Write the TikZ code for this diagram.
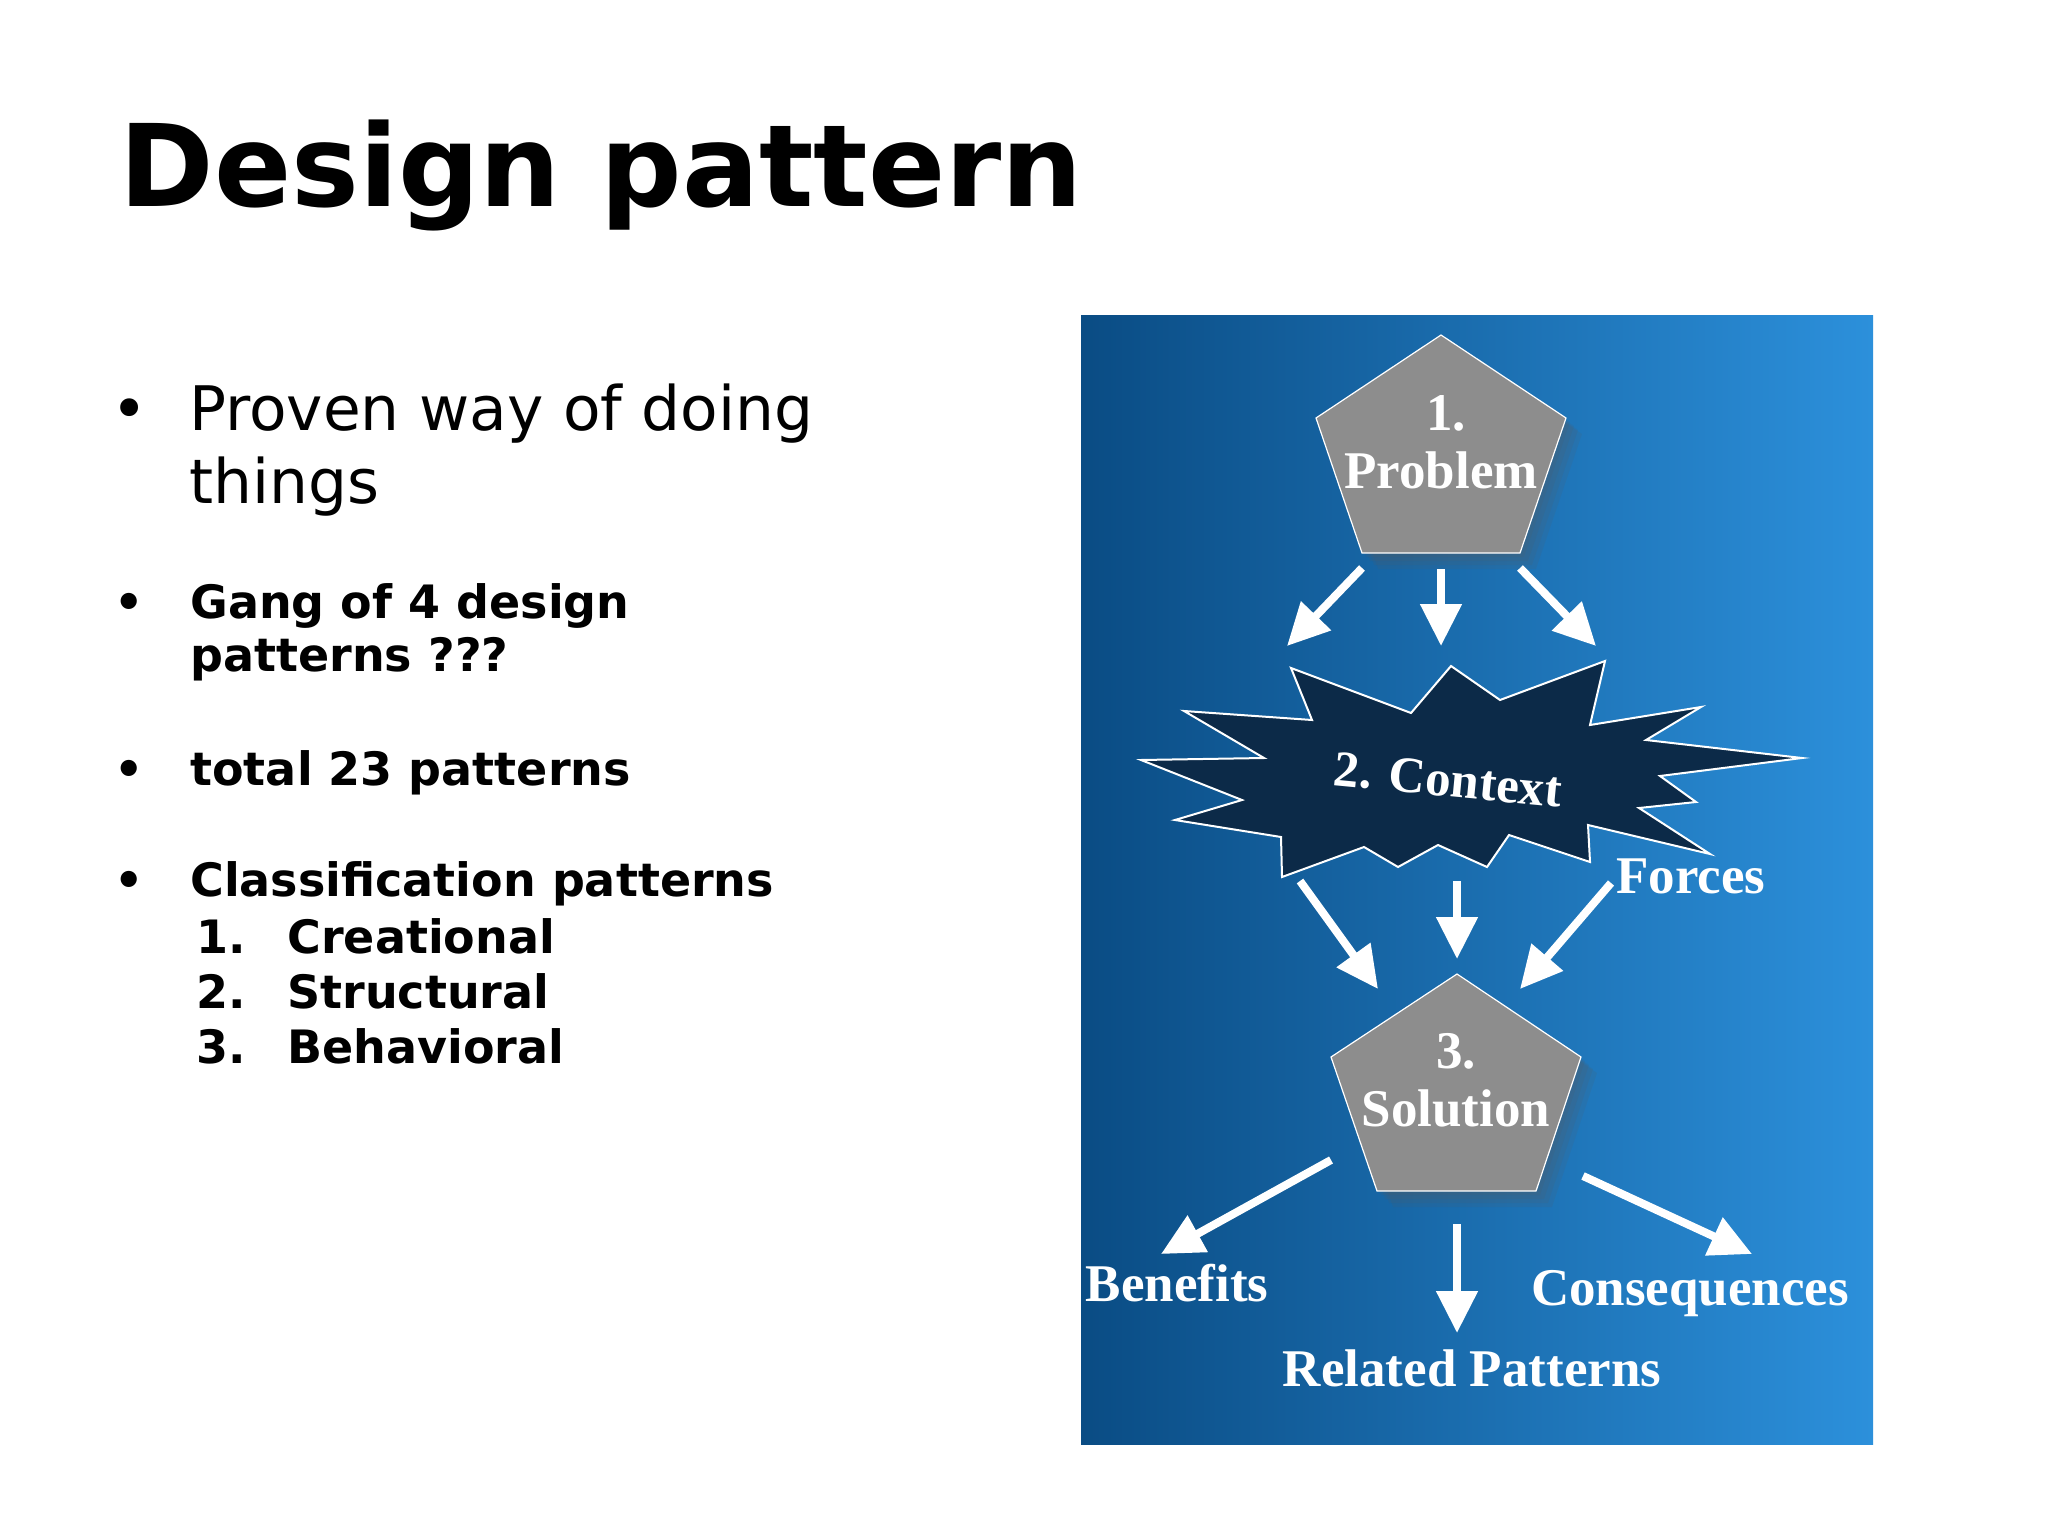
\documentclass[tikz,border=0pt]{standalone}
\usepackage{fontspec}
\setmainfont{DejaVu Sans}
\newfontfamily\diagfont{Liberation Serif}
\usetikzlibrary{arrows.meta}
\definecolor{bgleft}{HTML}{0A4C84}
\definecolor{bgmid}{HTML}{0965AF}
\definecolor{bgright}{HTML}{2C90DB}
\definecolor{starfill}{HTML}{0C2A48}
\definecolor{pentfill}{HTML}{8D8D8D}
\tikzset{
  slidetext/.style={anchor=base west, inner sep=0pt},
  bigtext/.style={font=\fontsize{30.7pt}{36pt}\selectfont},
  boldtext/.style={font=\fontsize{23pt}{27pt}\selectfont\bfseries},
  bulletdot/.style={anchor=base, inner sep=0pt},
  lab/.style={anchor=base, inner sep=0pt, text=white, font=\diagfont\bfseries\fontsize{26.5pt}{30pt}\selectfont},
  warr/.style={draw=white, line width=4pt, -{Triangle[width=20pt,length=21pt]}},
  pent/.style={fill=pentfill, draw=white, line width=0.6pt},
  pshadow/.style={fill=black!30!gray, opacity=0.12}
}
\begin{document}
\begin{tikzpicture}[x=0.5pt,y=-0.5pt]
\useasboundingbox[fill=white] (0,0) rectangle (2048,1535);

% ---------- slide text ----------
\node[slidetext, font=\fontsize{57pt}{61pt}\selectfont\bfseries] (title) at (119,207) {Design pattern};

\node[bulletdot, bigtext] (b1) at (130,430) {•};
\node[slidetext, bigtext] (t1a) at (189,430) {Proven way of doing};
\node[slidetext, bigtext] (t1b) at (189,503) {things};

\node[bulletdot, boldtext] (b2) at (129,618) {•};
\node[slidetext, boldtext] (t2a) at (190,618) {Gang of 4 design};
\node[slidetext, boldtext] (t2b) at (190,671) {patterns ???};

\node[bulletdot, boldtext] (b3) at (129,785) {•};
\node[slidetext, boldtext] (t3) at (190,785) {total 23 patterns};

\node[bulletdot, boldtext] (b4) at (129,896) {•};
\node[slidetext, boldtext] (t4) at (190,896) {Classification patterns};
\node[slidetext, boldtext] (n1) at (196,953) {1.};
\node[slidetext, boldtext] (c1) at (287,953) {Creational};
\node[slidetext, boldtext] (n2) at (196,1008) {2.};
\node[slidetext, boldtext] (c2) at (287,1008) {Structural};
\node[slidetext, boldtext] (n3) at (196,1063) {3.};
\node[slidetext, boldtext] (c3) at (287,1063) {Behavioral};

% ---------- diagram panel ----------
\shade[left color=bgleft, middle color=bgmid, right color=bgright] (1081,316) rectangle (1873,1444);

% shadows of pentagons
\foreach \d in {4,8,12,16}{
  \begin{scope}[shift={(\d,\d)}]
  \fill[pshadow] (1441,335) -- (1566,418) -- (1520,553) -- (1362,553) -- (1316,418) -- cycle;
  \fill[pshadow] (1457,974) -- (1581,1057) -- (1536,1191) -- (1377,1191) -- (1331,1057) -- cycle;
  \end{scope}
}

% Problem pentagon
\path[pent] (1441,335) -- (1566,418) -- (1520,553) -- (1362,553) -- (1316,418) -- cycle;
\node[lab] (p1) at (1446,430) {1.};
\node[lab] (prob) at (1441,488) {Problem};

% Context star
\path[fill=starfill, draw=white, line width=1pt]
  (1291,668) -- (1411,713) -- (1451,666) -- (1500,700) -- (1605,661) -- (1590,725)
  -- (1701,707) -- (1646,740) -- (1802,758) -- (1660,776) -- (1696,802) -- (1639,808)
  -- (1710,854) -- (1588,825) -- (1590,862) -- (1509,835) -- (1487,867) -- (1438,845)
  -- (1398,867) -- (1364,847) -- (1282,877) -- (1281,837) -- (1175,820) -- (1242,800)
  -- (1141,760) -- (1264,758) -- (1184,711) -- (1312,720) -- cycle;
\node[lab, anchor=center, rotate=-5.5, font=\diagfont\bfseries\fontsize{25.5pt}{30pt}\selectfont] (ctx) at (1448,780) {2. Context};

% Solution pentagon
\path[pent] (1457,974) -- (1581,1057) -- (1536,1191) -- (1377,1191) -- (1331,1057) -- cycle;
\node[lab] (p3) at (1456,1068) {3.};
\node[lab] (sol) at (1456,1126) {Solution};

% labels
\node[lab] (forces) at (1691,893) {Forces};
\node[lab] (benefits) at (1177,1301) {Benefits};
\node[lab] (conseq) at (1690,1305) {Consequences};
\node[lab] (related) at (1472,1386) {Related Patterns};

% arrow end points
\coordinate (pa1) at (1362,568); \coordinate (pb1) at (1287,646);
\coordinate (pa2) at (1441,569); \coordinate (pb2) at (1441,646);
\coordinate (pa3) at (1520,568); \coordinate (pb3) at (1596,646);
\coordinate (ca1) at (1300,881); \coordinate (cb1) at (1378,989);
\coordinate (ca2) at (1457,881); \coordinate (cb2) at (1457,959);
\coordinate (ca3) at (1611,883); \coordinate (cb3) at (1520,989);
\coordinate (sa1) at (1331,1160); \coordinate (sb1) at (1161,1254);
\coordinate (sa2) at (1457,1224); \coordinate (sb2) at (1457,1333);
\coordinate (sa3) at (1583,1176); \coordinate (sb3) at (1752,1254);

\draw[warr] (pa1) -- (pb1);
\draw[warr] (pa2) -- (pb2);
\draw[warr] (pa3) -- (pb3);
\draw[warr] (ca1) -- (cb1);
\draw[warr] (ca2) -- (cb2);
\draw[warr] (ca3) -- (cb3);
\draw[warr] (sa1) -- (sb1);
\draw[warr] (sa2) -- (sb2);
\draw[warr] (sa3) -- (sb3);
\end{tikzpicture}
\end{document}
